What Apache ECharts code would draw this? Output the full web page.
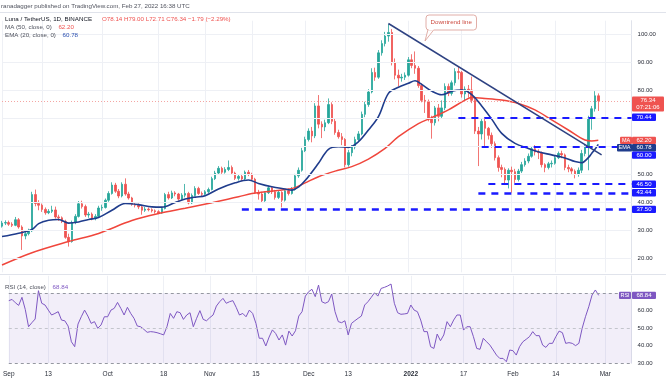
<!DOCTYPE html>
<html><head><meta charset="utf-8">
<script src="https://cdn.jsdelivr.net/npm/echarts@6/dist/echarts.min.js"></script>
<style>html,body{margin:0;padding:0;background:#fff}#c{width:666px;height:380px}</style>
</head><body><div id="c"></div>
<script>
// ---------- DATA ----------
const startDate = [2021, 8, 1];          // Sep 1 2021 (first category)
const nCategories = 190;                 // Sep 1 2021 .. Mar 9 2022
const tickDates = ['2021-09-01','2021-09-13','2021-10-01','2021-10-18','2021-11-01','2021-11-15','2021-12-01','2021-12-13','2022-01-01','2022-01-17','2022-02-01','2022-02-14','2022-03-01'];
const tickTexts = ['Sep','13','Oct','18','Nov','15','Dec','13','2022','17','Feb','14','Mar'];
const priceTicks = [20,30,40,50,60,70,80,90,100];

// daily candles from Sep 1 2021: [open, close, low, high]
const ohlc = [
[31.5,32.6,31.0,33.4],[32.6,32.8,31.9,33.6],[32.8,32.2,31.6,33.5],[32.2,31.8,31.2,32.9],[31.8,33.8,31.5,34.8],
[33.8,31.2,30.6,34.4],[31.2,28.0,23.0,31.8],[28.0,28.8,26.8,30.0],[28.8,29.8,28.2,30.6],[29.8,42.8,29.4,43.8],
[42.8,39.6,38.6,44.6],[39.6,39.0,37.2,40.8],[39.0,37.5,36.6,39.6],[37.5,36.3,35.6,38.2],[36.3,36.8,35.8,37.6],
[36.8,37.3,36.2,38.8],[37.3,34.8,34.2,38.5],[34.8,34.5,33.4,35.6],[34.5,33.2,32.6,35.0],[33.2,27.5,27.0,33.8],
[27.5,26.0,24.2,28.8],[26.0,32.8,25.6,33.5],[32.8,35.0,32.2,35.8],[35.0,39.5,34.6,40.5],[39.5,38.5,37.8,40.6],
[38.5,35.5,34.8,39.2],[35.5,35.8,34.5,36.6],[35.8,34.2,33.6,36.4],[34.2,35.0,33.6,35.8],[35.0,38.0,34.6,38.8],
[38.0,38.2,37.0,39.2],[38.2,40.8,37.8,41.4],[40.8,43.2,40.2,44.0],[43.2,46.2,42.8,47.2],[46.2,44.0,43.4,47.0],
[44.0,42.3,41.5,44.8],[42.3,46.5,41.8,47.2],[46.5,43.0,42.4,48.6],[43.0,41.6,41.0,43.8],[41.6,39.3,38.8,42.0],
[39.3,39.0,38.2,40.0],[39.0,38.4,37.6,39.6],[38.4,37.2,35.6,38.9],[37.2,37.6,36.6,38.4],[37.6,37.4,36.8,38.2],
[37.4,37.0,36.4,37.9],[37.0,36.7,36.0,37.5],[36.7,36.2,35.8,37.2],[36.2,37.8,35.9,38.4],[37.8,42.8,37.5,43.4],
[42.8,41.6,41.0,43.8],[41.6,43.4,41.2,44.2],[43.4,43.0,42.2,44.0],[43.0,41.2,40.6,43.4],[41.2,42.6,40.9,43.3],
[42.6,43.2,41.8,46.6],[43.2,39.8,39.3,43.8],[39.8,42.5,39.4,43.2],[42.5,45.0,42.2,45.8],[45.0,43.2,42.7,45.6],
[43.2,42.9,42.3,43.9],[42.9,43.8,42.5,44.4],[43.8,44.6,43.3,45.3],[44.6,48.5,44.3,49.2],[48.5,50.5,48.0,51.3],
[50.5,52.2,50.0,53.0],[52.2,50.8,50.2,52.8],[50.8,51.8,50.3,52.6],[51.8,52.5,51.2,55.0],[52.5,50.5,49.8,53.2],
[50.5,48.6,48.0,51.0],[48.6,49.3,47.8,50.0],[49.3,48.4,47.6,50.2],[48.4,50.8,48.0,51.4],[50.8,50.0,49.4,51.6],
[50.0,48.3,47.8,50.6],[48.3,43.5,43.0,48.8],[43.5,43.0,41.0,44.5],[43.0,40.6,39.8,43.8],[40.6,43.5,40.2,44.0],
[43.5,45.2,43.0,46.0],[45.2,43.8,43.0,45.8],[43.8,41.8,41.0,44.5],[41.8,43.6,41.2,44.2],[43.6,40.8,38.2,44.0],
[40.8,44.2,40.3,44.8],[44.2,43.2,42.5,45.0],[43.2,44.6,42.8,45.5],[44.6,49.5,44.2,50.2],[49.5,51.5,48.8,52.5],
[51.5,58.5,51.0,59.5],[58.5,62.5,58.0,63.5],[62.5,65.5,61.8,66.5],[65.5,63.8,61.5,67.0],[63.8,74.5,63.0,75.5],
[74.5,68.0,66.5,78.4],[68.0,67.0,63.0,69.0],[67.0,68.5,65.5,69.6],[68.5,75.0,68.0,77.2],[75.0,69.0,68.0,75.8],
[69.0,65.0,64.2,70.0],[65.0,63.5,62.8,66.0],[63.5,62.5,60.5,64.8],[62.5,53.5,52.5,63.0],[53.5,57.8,52.8,58.8],
[57.8,59.8,56.5,60.5],[59.8,62.5,59.0,63.5],[62.5,64.5,61.8,65.5],[64.5,71.5,64.0,72.5],[71.5,75.0,70.5,76.0],
[75.0,79.5,74.2,80.5],[79.5,86.5,79.0,88.0],[86.5,84.8,83.5,88.2],[84.8,93.5,84.2,94.5],[93.5,96.8,92.5,98.0],
[96.8,99.5,95.8,101.0],[99.5,100.8,97.5,103.8],[100.8,90.0,89.0,102.0],[90.0,85.5,84.0,91.5],[85.5,84.5,81.5,87.5],
[84.5,84.8,83.2,86.0],[84.8,85.5,83.8,86.5],[85.5,91.0,85.0,92.0],[91.0,89.0,88.0,93.0],[89.0,88.0,86.0,94.0],
[88.0,81.8,81.0,88.8],[81.8,76.5,75.8,82.6],[76.5,76.0,72.0,78.4],[76.0,69.8,69.0,76.8],[69.8,68.5,62.8,71.0],
[68.5,73.8,67.5,74.5],[73.8,70.8,69.0,75.2],[70.8,73.8,70.0,76.5],[73.8,81.5,73.0,82.6],[81.5,79.0,78.0,82.5],
[79.0,82.8,78.2,83.6],[82.8,86.8,81.8,88.0],[86.8,86.5,84.0,88.8],[86.5,78.8,77.5,87.0],[78.8,80.5,76.5,81.5],
[80.5,80.2,77.5,82.0],[80.2,76.5,75.5,85.0],[76.5,65.5,64.5,77.5],[65.5,64.5,53.0,67.0],[64.5,69.0,62.5,69.8],
[69.0,66.5,60.0,70.5],[66.5,64.0,62.5,67.0],[64.0,61.0,59.5,65.0],[61.0,56.0,55.0,61.8],[56.0,52.5,51.0,56.8],
[52.5,51.8,49.0,53.5],[51.8,48.0,46.8,52.5],[48.0,51.5,45.0,52.2],[51.5,51.0,43.5,52.8],[51.0,48.2,47.0,52.0],
[48.2,51.2,47.5,52.0],[51.2,53.5,50.5,54.5],[53.5,54.8,52.8,55.8],[54.8,56.5,54.0,57.5],[56.5,59.2,56.0,60.0],
[59.2,58.0,56.8,60.5],[58.0,57.8,55.5,59.0],[57.8,53.5,52.5,58.2],[53.5,52.5,50.8,54.0],[52.5,53.8,51.8,54.5],
[53.8,54.0,52.5,55.0],[54.0,56.0,53.5,56.8],[56.0,57.5,55.5,58.2],[57.5,57.0,55.8,58.5],[57.0,52.5,51.5,57.5],
[52.5,52.0,50.8,53.5],[52.0,51.2,50.2,52.6],[51.2,50.0,48.6,51.8],[50.0,51.5,49.2,52.5],[51.5,57.5,50.5,58.8],
[57.5,59.8,56.5,60.8],[59.8,70.2,51.5,71.0],[70.2,73.5,66.0,74.5],[73.5,78.14,72.5,79.8],[78.14,76.34,72.71,79.00]
];

// MA(50) (day index from Sep 1 -> value)
const maDays = [0,9,20,29,39,47,55,63,71,75,79,85,88,91,95,100,105,110,115,119,125,129,134,139,141,145,150,155,160,165,170,175,177,179];
const maVals = [17.6,22.0,26.0,28.9,33.5,36.0,37.9,39.9,42.0,43.2,43.8,44.6,45.3,47.0,49.2,51.2,52.8,55.5,59.3,63.5,68.2,70.3,73.1,76.6,77.5,77.2,76.6,75.4,73.1,69.5,65.9,62.3,62.0,62.2];
// EMA(20)
const emaDays = [0,5,9,11,14,17,20,23,26,29,33,37,41,45,48,52,55,58,61,65,70,74,77,81,85,87,89,91,95,98,101,104,107,110,113,116,119,122,124,126,129,132,135,138,141,144,147,150,154,158,161,165,169,172,174,176,177,178,179];
const emaVals = [27.8,29.0,30.3,32.4,33.6,33.9,32.6,33.0,33.9,34.6,37.2,39.6,39.2,38.4,38.3,40.0,41.2,41.9,42.4,44.8,47.0,48.0,46.8,45.6,44.8,44.4,45.5,47.8,54.0,59.0,59.9,59.7,61.7,65.9,70.7,79.0,81.2,82.6,83.5,82.2,79.8,78.5,79.8,80.2,78.6,74.5,69.8,64.7,61.1,59.3,58.1,57.0,55.9,54.6,54.2,56.0,57.5,59.0,60.78];

// RSI(14) daily
const rsi = [
65.8,66.5,64.6,63.1,67.7,60.8,50.9,53.2,55.3,71.5,
64.3,63.3,60.4,57.6,58.5,59.5,54.7,54.3,51.3,42.3,
39.5,52.4,56.6,60.4,57.0,52.8,53.8,50.0,51.9,56.6,
56.6,60.4,61.4,64.8,61.4,57.6,62.0,58.5,55.7,51.3,
50.9,49.4,47.7,48.1,47.9,47.5,46.9,46.2,50.9,58.5,
55.7,59.5,58.9,55.1,57.6,58.9,50.9,55.7,60.1,55.1,
54.3,56.1,57.6,62.7,65.2,67.1,64.3,65.2,65.8,62.0,
57.6,58.5,56.6,60.4,58.5,52.8,44.3,44.3,39.9,45.0,
49.1,47.0,43.3,46.2,40.4,48.4,45.6,48.6,57.0,59.5,
68.4,70.9,72.3,68.1,74.7,65.2,64.3,65.2,69.6,59.5,
53.8,53.2,54.3,46.2,52.8,54.3,55.7,57.0,63.3,65.2,
67.7,70.3,68.4,72.8,73.4,74.2,75.3,64.3,58.9,58.0,
58.2,58.5,63.3,60.4,59.5,54.7,48.1,48.1,39.5,38.5,
46.7,42.9,46.2,53.8,50.9,54.7,57.6,57.6,49.0,50.9,
50.9,45.2,38.5,38.0,44.3,42.3,40.4,37.6,34.7,32.8,
32.8,30.9,37.6,37.2,34.7,39.5,42.3,43.7,45.2,48.1,
45.8,45.8,40.4,39.1,41.4,41.4,45.2,48.4,47.5,41.4,
41.8,41.4,40.1,41.4,50.0,56.6,62.3,69.0,71.9,68.84];

const supportLevels = [70.44, 60.00, 46.50, 43.44, 37.50];
const supportStarts = ['2022-01-16','2022-01-23','2022-01-25','2022-01-22','2021-11-12'];
const supportWidths = [2, 2, 2, 2.6, 2.6];
const downtrendFrom = ['2021-12-26', 104.0];
const downtrendTo = ['2022-02-28', 57.0];
const lastClose = 76.34, lastMA = 62.20, lastEMA = 60.78, lastRSI = 68.84;

// ---------- BUILD ----------
const FONT = '"Liberation Sans", Arial, sans-serif';
const UP = '#26a69a', DOWN = '#ef5350', MA_C = '#f0463c', EMA_C = '#1f3c8c', LVL = '#1a1aff', RSI_C = '#7e57c2';
const categories = [];
for (let i = 0; i < nCategories; i++) {
  const d = new Date(Date.UTC(startDate[0], startDate[1], startDate[2] + i));
  categories.push(d.toISOString().slice(0, 10));
}
const tickMap = {}; tickDates.forEach((d, i) => tickMap[d] = tickTexts[i]);
const showTick = (idx, val) => tickMap[categories[idx]] !== undefined;
function sparse(days, vals) { const a = new Array(nCategories).fill(null); days.forEach((d, i) => a[d] = vals[i]); return a; }
const noSym = ['none', 'none'];

const chart = echarts.init(document.getElementById('c'));
chart.setOption({
  animation: false,
  backgroundColor: '#ffffff',
  textStyle: { fontFamily: FONT },
  grid: [
    { left: 2, right: 34.4, top: 20.7, height: 251.6 },
    { left: 2, right: 34.4, top: 275.8, height: 87.5 }
  ],
  xAxis: [
    { type: 'category', gridIndex: 0, data: categories, boundaryGap: false,
      axisLine: { show: false }, axisTick: { show: false }, axisLabel: { show: false },
      splitLine: { show: true, interval: showTick, lineStyle: { color: '#eef0f5', width: 1 } } },
    { type: 'category', gridIndex: 1, data: categories, boundaryGap: false,
      axisLine: { show: false }, axisTick: { show: false },
      axisLabel: { show: true, interval: showTick, fontSize: 6.5, color: '#2a2e39', margin: 7, fontFamily: FONT,
        formatter: v => tickMap[v] === '2022' ? '{b|2022}' : (tickMap[v] || ''),
        rich: { b: { fontWeight: 'bold', fontSize: 6.5, color: '#2a2e39', fontFamily: FONT } } },
      splitLine: { show: true, interval: showTick, lineStyle: { color: '#eef0f5', width: 1 } } }
  ],
  yAxis: [
    { type: 'value', gridIndex: 0, position: 'right', min: 15, max: 105, interval: 5,
      axisLine: { show: true, lineStyle: { color: '#e0e3eb' } }, axisTick: { show: false },
      splitLine: { show: false },
      axisLabel: { fontSize: 6, color: '#2a2e39', margin: 6, fontFamily: FONT,
        formatter: v => priceTicks.indexOf(v) >= 0 ? v.toFixed(2) : '' } },
    { type: 'value', gridIndex: 1, position: 'right', min: 30, max: 80, interval: 10,
      axisLine: { show: true, lineStyle: { color: '#e0e3eb' } }, axisTick: { show: false },
      splitLine: { show: false },
      axisLabel: { fontSize: 6, color: '#2a2e39', margin: 6, fontFamily: FONT,
        formatter: v => v <= 60 ? v.toFixed(2) : '' } }
  ],
  series: [
    { type: 'line', xAxisIndex: 0, yAxisIndex: 0, data: [], silent: true, z: 0,
      markLine: { silent: true, symbol: noSym, label: { show: false },
        lineStyle: { color: '#eef0f5', type: 'solid', width: 1 },
        data: priceTicks.map(v => ({ yAxis: v })) } },
    { type: 'candlestick', xAxisIndex: 0, yAxisIndex: 0, data: ohlc, barWidth: 2,
      itemStyle: { color: UP, color0: DOWN, borderColor: UP, borderColor0: DOWN, borderWidth: 0.8 },
      markLine: { silent: true, symbol: noSym, label: { show: false }, animation: false,
        data: [
          { yAxis: lastClose, lineStyle: { color: '#f4a6a3', type: [1, 2], width: 1 } },
          ...supportLevels.map((v, i) => [
            { coord: [supportStarts[i], v], lineStyle: { color: LVL, type: [7, 6], width: supportWidths[i] } },
            { coord: [categories[nCategories - 1], v] }
          ]),
          [ { coord: downtrendFrom, lineStyle: { color: '#2e4282', type: 'solid', width: 1.5 } }, { coord: downtrendTo } ]
        ] } },
    { type: 'line', name: 'MA', xAxisIndex: 0, yAxisIndex: 0, data: sparse(maDays, maVals), connectNulls: true,
      smooth: 0.35, showSymbol: false, symbol: 'none', lineStyle: { color: MA_C, width: 1.5 }, z: 3 },
    { type: 'line', name: 'EMA', xAxisIndex: 0, yAxisIndex: 0, data: sparse(emaDays, emaVals), connectNulls: true,
      smooth: 0.35, showSymbol: false, symbol: 'none', lineStyle: { color: EMA_C, width: 1.6 }, z: 4 },
    { type: 'line', name: 'RSI', xAxisIndex: 1, yAxisIndex: 1, data: rsi, showSymbol: false, symbol: 'none',
      lineStyle: { color: RSI_C, width: 1 },
      markArea: { silent: true, itemStyle: { color: 'rgba(126,87,194,0.10)' }, data: [[{ yAxis: 30 }, { yAxis: 70 }]] },
      markLine: { silent: true, symbol: noSym, label: { show: false },
        data: [
          { yAxis: 70, lineStyle: { color: '#9598a1', type: [3, 3], width: 1 } },
          { yAxis: 50, lineStyle: { color: '#c3c5cc', type: [3, 3], width: 1 } },
          { yAxis: 30, lineStyle: { color: '#9598a1', type: [3, 3], width: 1 } }
        ] } }
  ]
});

// ---------- ANNOTATIONS (positions from the axes) ----------
const py = v => chart.convertToPixel({ yAxisIndex: 0 }, v);
const ry = v => chart.convertToPixel({ yAxisIndex: 1 }, v);
const AX = 632, BW = 24, BH = 7.4;
const g = [];
function box(x, yc, w, h, fill, txt, fs) {
  g.push({ type: 'rect', z: 100, shape: { x: x, y: yc - h / 2, width: w, height: h, r: 1 }, style: { fill: fill } });
  g.push({ type: 'text', z: 101, x: x + w / 2, y: yc, style: { text: txt, fill: '#ffffff', font: (fs || 6) + 'px ' + FONT, textAlign: 'center', textVerticalAlign: 'middle', align: 'center', verticalAlign: 'middle' } });
}
// header
g.push({ type: 'text', z: 100, x: 1, y: 6, style: { text: 'ranadagger published on TradingView.com, Feb 27, 2022 16:38 UTC', fill: '#50535e', font: '6.2px ' + FONT, textVerticalAlign: 'middle', verticalAlign: 'middle' } });
g.push({ type: 'line', z: 100, shape: { x1: 0, y1: 12.5, x2: 666, y2: 12.5 }, style: { stroke: '#e0e3eb', lineWidth: 1 } });
g.push({ type: 'text', z: 100, x: 5, y: 19, style: {
  text: '{a|Luna / TetherUS, 1D, BINANCE}   {v|O78.14 H79.00 L72.71 C76.34 −1.79 (−2.29%)}',
  textVerticalAlign: 'middle', verticalAlign: 'middle',
  rich: { a: { fill: '#131722', color: '#131722', fontSize: 6.2, fontFamily: FONT }, v: { fill: DOWN, color: DOWN, fontSize: 6.2, fontFamily: FONT } } } });
g.push({ type: 'text', z: 100, x: 5, y: 27.5, style: {
  text: '{a|MA (50, close, 0)}  {v|62.20}', textVerticalAlign: 'middle', verticalAlign: 'middle',
  rich: { a: { fill: '#50535e', color: '#50535e', fontSize: 6.2, fontFamily: FONT }, v: { fill: DOWN, color: DOWN, fontSize: 6.2, fontFamily: FONT } } } });
g.push({ type: 'text', z: 100, x: 5, y: 35, style: {
  text: '{a|EMA (20, close, 0)}  {v|60.78}', textVerticalAlign: 'middle', verticalAlign: 'middle',
  rich: { a: { fill: '#50535e', color: '#50535e', fontSize: 6.2, fontFamily: FONT }, v: { fill: '#2a4fb0', color: '#2a4fb0', fontSize: 6.2, fontFamily: FONT } } } });
g.push({ type: 'text', z: 100, x: 5, y: 287, style: {
  text: '{a|RSI (14, close)}  {v|68.84}', textVerticalAlign: 'middle', verticalAlign: 'middle',
  rich: { a: { fill: '#50535e', color: '#50535e', fontSize: 6.2, fontFamily: FONT }, v: { fill: RSI_C, color: RSI_C, fontSize: 6.2, fontFamily: FONT } } } });
// pane separator
g.push({ type: 'line', z: 100, shape: { x1: 0, y1: 274.5, x2: 666, y2: 274.5 }, style: { stroke: '#e0e3eb', lineWidth: 1 } });
// callout
g.push({ type: 'polygon', z: 100, shape: { points: [[428, 29.5], [425, 41], [434, 29.5]] }, style: { fill: '#ffffff', stroke: '#d99a92', lineWidth: 0.8 } });
g.push({ type: 'rect', z: 101, shape: { x: 426, y: 15, width: 50.5, height: 15, r: 3 }, style: { fill: '#ffffff', stroke: '#d99a92', lineWidth: 0.8 } });
g.push({ type: 'rect', z: 102, shape: { x: 428.6, y: 29, width: 5, height: 1.4 }, style: { fill: '#ffffff' } });
g.push({ type: 'text', z: 103, x: 451.2, y: 22.5, style: { text: 'Downtrend line', fill: '#cc4b40', font: '6.2px ' + FONT, textAlign: 'center', textVerticalAlign: 'middle', align: 'center', verticalAlign: 'middle' } });
// last price box with countdown
const yLast = py(lastClose);
g.push({ type: 'rect', z: 100, shape: { x: AX, y: yLast - 4.3, width: 32, height: 15, r: 1 }, style: { fill: DOWN } });
g.push({ type: 'text', z: 101, x: AX + 16, y: yLast, style: { text: lastClose.toFixed(2), fill: '#fff', font: '6px ' + FONT, textAlign: 'center', textVerticalAlign: 'middle', align: 'center', verticalAlign: 'middle' } });
g.push({ type: 'text', z: 101, x: AX + 16, y: yLast + 7, style: { text: '07:21:06', fill: '#fff', font: '6px ' + FONT, textAlign: 'center', textVerticalAlign: 'middle', align: 'center', verticalAlign: 'middle' } });
// support level boxes
box(AX, py(70.44), BW, BH, LVL, '70.44');
const yMA = py(lastMA);
const yEMA = Math.max(py(lastEMA), yMA + BH);
const y60 = Math.max(py(60), yEMA + BH);
box(AX - 12, yMA, 12, BH, DOWN, 'MA', 5.5); box(AX, yMA, BW, BH, DOWN, '62.20');
box(AX - 15, yEMA, 15, BH, EMA_C, 'EMA', 5.5); box(AX, yEMA, BW, BH, EMA_C, '60.78');
box(AX, y60, BW, BH, LVL, '60.00');
box(AX, py(46.5), BW, BH, LVL, '46.50');
box(AX, py(43.44), BW, BH, LVL, '43.44');
box(AX, py(37.5), BW, BH, LVL, '37.50');
const yR = ry(lastRSI);
box(AX - 13, yR, 12, BH, RSI_C, 'RSI', 5.5); box(AX, yR, BW, BH, RSI_C, '68.84');
chart.setOption({ graphic: { elements: g } });
</script>
</body></html>
